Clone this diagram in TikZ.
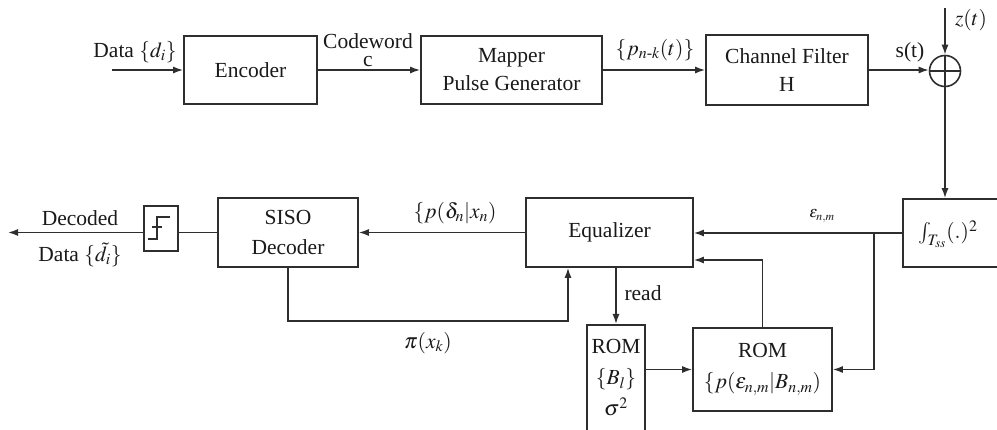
\documentclass[tikz,border=0pt]{standalone}
\usepackage{amsmath}
\usepackage{mathptmx}
\usepackage{fontspec}
\setmainfont{Liberation Serif}
\usetikzlibrary{arrows.meta}
\definecolor{linec}{HTML}{2E2E2E}
\definecolor{textc}{HTML}{1A1A1A}
\begin{document}
\begin{tikzpicture}[x=1pt,y=-1pt,
  font=\fontsize{21.5}{28}\selectfont,
  box/.style={draw=linec, line width=1.7pt, inner sep=0pt, align=center, text=textc},
  conn/.style={draw=linec, line width=1.5pt},
  arr/.style={conn, -{Latex[length=10pt,width=7pt]}},
  lbl/.style={text=textc, inner sep=0pt}
]
\fill[white] (0,0) rectangle (997,430);
\useasboundingbox (0,0) rectangle (997,430);

% blocks
\node[box, minimum width=133pt, minimum height=68pt] (enc) at (250.5,70) {Encoder};
\node[box, minimum width=181pt, minimum height=68pt] (map) at (511.5,70) {Mapper\\Pulse Generator};
\node[box, minimum width=162pt, minimum height=70pt] (chf) at (787,70) {Channel Filter\\H};
\node[draw=linec, line width=1.6pt, circle, minimum size=31pt, inner sep=0pt] (add) at (945,71) {};
\node[box, minimum width=115pt, minimum height=68pt, anchor=west] (int) at (902,233) {};
\node[lbl] (intt) at (948,234) {$\int_{T_{ss}}(.)^2$};
\node[box, minimum width=167pt, minimum height=69pt] (eq) at (609.5,232.5) {Equalizer};
\node[box, minimum width=140pt, minimum height=69pt, font=\fontsize{21.5}{30}\selectfont] (siso) at (288,232.5) {SISO\\Decoder};
\node[box, line width=1.4pt, minimum width=34pt, minimum height=45pt] (thr) at (161,228.5) {};
\node[box, minimum width=58pt, minimum height=125pt, anchor=north] (rom1) at (616,324) {};
\node[lbl, align=center, font=\fontsize{21.5}{31}\selectfont] (rom1t) at (616,378) {ROM\\$\{B_l\}$\\$\sigma^2$};
\node[box, minimum width=139pt, minimum height=83pt, font=\fontsize{21.5}{31}\selectfont] (rom2) at (762.5,369.5) {ROM\\$\{p(\varepsilon_{n,m}|B_{n,m})$};

% hard limiter symbol
\draw[conn, line width=1.1pt] (148,239) -- (157,239) -- (157,217) -- (170,217);
\draw[conn, line width=1.1pt] (152,227) -- (162,227);

% top row connectors
\coordinate (din) at (112,70);
\draw[arr] (din) -- (enc.west);
\draw[arr] (enc) -- (map);
\draw[arr] (map) -- (chf);
\draw[arr] (chf.east) -- (chf.east -| add.west);
\coordinate (ztop) at (945,8);
\draw[arr] (ztop) -- (add.north);
\draw[conn] (add.north) -- (add.south) (add.west) -- (add.east);
\draw[arr] (add.south) -- (add.south |- int.north);

% bottom row connectors
\draw[arr] (int.west) -- (int.west -| eq.east);
\coordinate (br) at (874,233);
\draw[arr] (br) |- (rom2.east);
\draw[arr] (rom2.north) |- ([yshift=-27.5pt]eq.east);
\draw[arr] (eq.west) -- (siso.east);
\draw[arr] (siso.south) -- ++(0,53) -| ([xshift=-41.5pt]eq.south);
\draw[arr] (rom1.north |- eq.south) -- (rom1.north);
\draw[arr] (rom1.east |- rom2.west) -- (rom2.west);
\draw[conn] (siso.west) -- (thr.east |- siso.west);
\coordinate (dout) at (8,232.5);
\draw[arr] (thr.west |- siso.west) -- (dout);

% labels
\node[lbl] (ldin) at (135,52) {Data $\{d_i\}$};
\node[lbl, anchor=base] (lcw) at (368,49) {Codeword};
\node[lbl, anchor=base] (lc) at (368,67) {c};
\node[lbl] (lp) at (655,50) {$\{p_{n\text{-}k}(t)\}$};
\node[lbl] (ls) at (910,52) {s(t)};
\node[lbl] (lz) at (971,20) {$z(t)$};
\node[lbl, font=\fontsize{16}{18}\selectfont] (leps) at (822,216) {$\varepsilon_{n,m}$};
\node[lbl] (lpd) at (455,213) {$\{p(\delta_n|x_n)$};
\node[lbl] (lpi) at (428,343) {$\pi(x_k)$};
\node[lbl] (lread) at (643,293) {read};
\node[lbl] (ldec) at (80,218) {Decoded};
\node[lbl] (ldd) at (80,255) {Data $\{\tilde{d}_i\}$};
\end{tikzpicture}
\end{document}
